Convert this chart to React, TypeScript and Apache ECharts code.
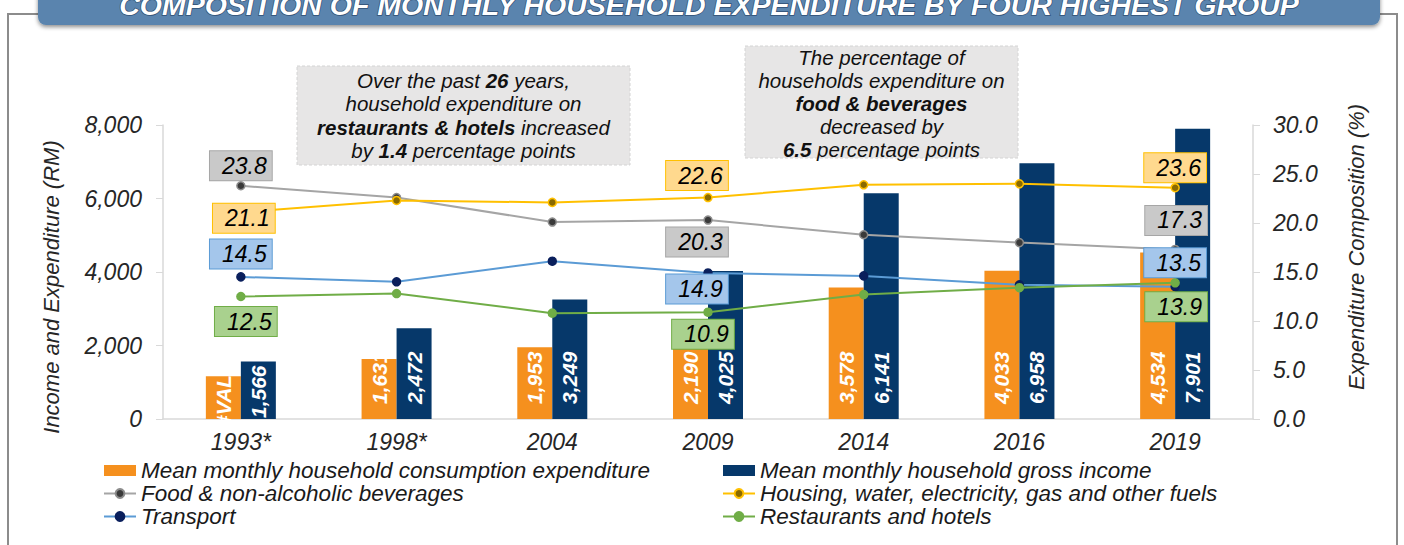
import React, { useEffect, useRef } from "react";
import * as echarts from "echarts";

const categories = ["1993*", "1998*", "2004", "2009", "2014", "2016", "2019"];
const consumption = [1161, 1631, 1953, 2190, 3578, 4033, 4534];
const consumptionLabelText = ["#VALUE!", null, null, null, null, null, null];
const income = [1566, 2472, 3249, 4025, 6141, 6958, 7901];
const food = [23.8, 22.6, 20.1, 20.3, 18.8, 18.0, 17.3];
const housing = [21.1, 22.3, 22.1, 22.6, 23.9, 24.0, 23.6];
const transport = [14.5, 14.0, 16.1, 14.9, 14.6, 13.7, 13.5];
const restaurants = [12.5, 12.8, 10.8, 10.9, 12.7, 13.4, 13.9];
const leftTicks = { min: 0, max: 8000, interval: 2000 };
const rightTicks = { min: 0, max: 30, interval: 5 };

const FONT = '"Liberation Sans", Arial, sans-serif';

const fmt = (v: number) => String(v).replace(/\B(?=(\d{3})+(?!\d))/g, ",");

// label placement for highlighted points (index -> [dx, dy])
const labelOffsets: Record<string, Record<number, number[]>> = {
  food: { 0: [0, -20], 3: [-11, 22], 6: [1, -29] },
  housing: { 0: [3, 6], 3: [-11, -22], 6: [0, -20] },
  transport: { 0: [0, -23], 3: [-11, 16], 6: [0, -24] },
  restaurants: { 0: [5, 25], 3: [-5, 22], 6: [1, 24] },
};

const boxStyles: Record<string, { bg: string; border: string }> = {
  food: { bg: "#c9c9c9", border: "#a6a6a6" },
  housing: { bg: "#ffd98e", border: "#ffc000" },
  transport: { bg: "#a4c6eb", border: "#5b9bd5" },
  restaurants: { bg: "#a9d18e", border: "#70ad47" },
};

function lineData(key: string, values: number[]) {
  const offs = labelOffsets[key];
  const bs = boxStyles[key];
  return values.map((v, i) => {
    if (!offs[i]) return v;
    return {
      value: v,
      label: {
        show: true,
        position: "inside",
        offset: offs[i],
        formatter: (p: any) => Number(p.value).toFixed(1),
        fontSize: 23,
        fontStyle: "italic",
        fontFamily: FONT,
        color: "#000",
        backgroundColor: bs.bg,
        borderColor: bs.border,
        borderWidth: 1,
        padding: [2, 5, 2, 12],
        lineHeight: 25,
      },
    };
  });
}

export default function App() {
  const ref = useRef<HTMLDivElement>(null);
  useEffect(() => {
    if (!ref.current) return;
    const chart = echarts.init(ref.current, undefined, { renderer: "svg" });

    const barLabel = {
      show: true,
      position: "insideBottom",
      rotate: 90,
      align: "left",
      verticalAlign: "middle",
      distance: 15,
      color: "#fff",
      fontSize: 21,
      fontWeight: "bold",
      fontStyle: "italic",
      fontFamily: FONT,
      formatter: (p: any) => fmt(p.value),
    };

    const lineBase = (name: string, key: string, values: number[], lineColor: string, symColor: string, symBorder: string) => ({
      name,
      type: "line",
      yAxisIndex: 1,
      data: lineData(key, values),
      symbol: "circle",
      symbolSize: 8,
      lineStyle: { color: lineColor, width: 2 },
      itemStyle: { color: symColor, borderColor: symBorder, borderWidth: 1.5 },
      z: 5,
    });

    const legendText = { fontSize: 22.5, fontStyle: "italic", fontFamily: FONT, color: "#1a1a1a", lineHeight: 23 };
    const axisLabelBase = { fontSize: 23, fontStyle: "italic", color: "#262626", fontFamily: FONT };

    chart.setOption({
      animation: false,
      textStyle: { fontFamily: FONT },
      grid: { left: 163, right: 151, top: 125, bottom: 126 },
      legend: [
        {
          orient: "vertical",
          left: 103,
          top: 459,
          padding: 0,
          itemGap: 0,
          itemWidth: 32,
          itemHeight: 11,
          textStyle: legendText,
          data: [
            { name: "Mean monthly household consumption expenditure", icon: "rect" },
            "Food & non-alcoholic beverages",
            "Transport",
          ],
        },
        {
          orient: "vertical",
          left: 722,
          top: 459,
          padding: 0,
          itemGap: 0,
          itemWidth: 32,
          itemHeight: 11,
          textStyle: legendText,
          data: [
            { name: "Mean monthly household gross income", icon: "rect" },
            "Housing, water, electricity, gas and other fuels",
            "Restaurants and hotels",
          ],
        },
      ],
      xAxis: {
        type: "category",
        data: categories,
        axisTick: { show: false },
        axisLine: { lineStyle: { color: "#d9d9d9", width: 1.5 } },
        axisLabel: { ...axisLabelBase, margin: 11 },
      },
      yAxis: [
        {
          type: "value",
          min: leftTicks.min,
          max: leftTicks.max,
          interval: leftTicks.interval,
          splitLine: { show: false },
          axisLine: { show: true, lineStyle: { color: "#d9d9d9", width: 1.5 } },
          axisTick: { show: true, length: 7, lineStyle: { color: "#d9d9d9" } },
          axisLabel: { ...axisLabelBase, margin: 21, formatter: (v: number) => fmt(v) },
        },
        {
          type: "value",
          position: "right",
          min: rightTicks.min,
          max: rightTicks.max,
          interval: rightTicks.interval,
          splitLine: { show: false },
          axisLine: { show: true, lineStyle: { color: "#d9d9d9", width: 1.5 } },
          axisTick: { show: true, length: 7, lineStyle: { color: "#d9d9d9" } },
          axisLabel: { ...axisLabelBase, margin: 20, formatter: (v: number) => v.toFixed(1) },
        },
      ],
      series: [
        {
          name: "Mean monthly household consumption expenditure",
          type: "bar",
          barWidth: 35,
          barGap: "0%",
          itemStyle: { color: "#f5901e" },
          label: barLabel,
          data: consumption.map((v, i) =>
            consumptionLabelText[i]
              ? { value: v, label: { formatter: consumptionLabelText[i], distance: -8 } }
              : v
          ),
          z: 2,
        },
        {
          name: "Mean monthly household gross income",
          type: "bar",
          barWidth: 35,
          barGap: "0%",
          itemStyle: { color: "#06386a" },
          label: barLabel,
          data: income.map((v, i) => (i === 0 ? { value: v, label: { distance: 1 } } : v)),
          z: 2,
        },
        lineBase("Food & non-alcoholic beverages", "food", food, "#a5a5a5", "#3a3a3a", "#8c8c8c"),
        lineBase("Housing, water, electricity, gas and other fuels", "housing", housing, "#ffc000", "#8a6a00", "#ffc000"),
        lineBase("Transport", "transport", transport, "#5b9bd5", "#0a1f5c", "#0a1f5c"),
        lineBase("Restaurants and hotels", "restaurants", restaurants, "#70ad47", "#70ad47", "#70ad47"),
      ],
      graphic: [
        {
          type: "rect",
          silent: true,
          shape: { x: 8, y: 14, width: 1389, height: 560 },
          style: { fill: "none", stroke: "#8c8c8c", lineWidth: 2 },
          z: 0,
        },
        {
          type: "rect",
          silent: true,
          shape: { x: 38, y: -20, width: 1342, height: 45, r: [0, 0, 8, 8] },
          style: { fill: "#5a84ae", shadowBlur: 4, shadowOffsetY: 2, shadowColor: "rgba(0,0,0,0.45)" },
          z: 10,
        },
        {
          type: "text",
          silent: true,
          x: 709,
          y: 5,
          style: {
            text: "COMPOSITION OF MONTHLY HOUSEHOLD EXPENDITURE BY FOUR HIGHEST GROUP",
            fontSize: 28.5,
            fontWeight: "bold",
            fontStyle: "italic",
            fontFamily: FONT,
            fill: "#ffffff",
            stroke: "#2f4f73",
            lineWidth: 1.5,
            align: "center",
            verticalAlign: "middle",
            textAlign: "center",
            textVerticalAlign: "middle",
          },
          z: 11,
        },
        {
          type: "text",
          silent: true,
          x: 51,
          y: 287,
          rotation: Math.PI / 2,
          style: {
            text: "Income and Expenditure (RM)",
            fontSize: 22,
            fontStyle: "italic",
            fontFamily: FONT,
            fill: "#262626",
            align: "center",
            verticalAlign: "middle",
            textAlign: "center",
            textVerticalAlign: "middle",
          },
        },
        {
          type: "text",
          silent: true,
          x: 1356,
          y: 247,
          rotation: Math.PI / 2,
          style: {
            text: "Expenditure Composition (%)",
            fontSize: 22,
            fontStyle: "italic",
            fontFamily: FONT,
            fill: "#262626",
            align: "center",
            verticalAlign: "middle",
            textAlign: "center",
            textVerticalAlign: "middle",
          },
        },
        {
          type: "group",
          children: [
            {
              type: "rect",
              silent: true,
              shape: { x: 297, y: 66, width: 333, height: 99 },
              style: { fill: "#e7e6e6", stroke: "#d4d4d4", lineWidth: 1, lineDash: [3, 2] },
            },
            {
              type: "text",
              silent: true,
              x: 463.5,
              y: 115.5,
              style: {
                text:
                  "{n|Over the past }{b|26}{n| years,}\n{n|household expenditure on}\n{b|restaurants & hotels}{n| increased}\n{n|by }{b|1.4}{n| percentage points}",
                align: "center",
                verticalAlign: "middle",
                textAlign: "center",
                textVerticalAlign: "middle",
                fontSize: 20.5,
                fontStyle: "italic",
                fontFamily: FONT,
                fill: "#111",
                rich: {
                  n: { fontSize: 20.5, fontStyle: "italic", fontFamily: FONT, lineHeight: 23.5, fill: "#111" },
                  b: { fontSize: 20.5, fontStyle: "italic", fontWeight: "bold", fontFamily: FONT, lineHeight: 23.5, fill: "#111" },
                },
              },
            },
          ],
        },
        {
          type: "group",
          children: [
            {
              type: "rect",
              silent: true,
              shape: { x: 745, y: 46, width: 273, height: 112 },
              style: { fill: "#e7e6e6", stroke: "#d4d4d4", lineWidth: 1, lineDash: [3, 2] },
            },
            {
              type: "text",
              silent: true,
              x: 881.5,
              y: 103,
              style: {
                text:
                  "{n|The percentage of}\n{n|households expenditure on}\n{b|food & beverages}\n{n|decreased by}\n{b|6.5}{n| percentage points}",
                align: "center",
                verticalAlign: "middle",
                textAlign: "center",
                textVerticalAlign: "middle",
                fontSize: 20.5,
                fontStyle: "italic",
                fontFamily: FONT,
                fill: "#111",
                rich: {
                  n: { fontSize: 20.5, fontStyle: "italic", fontFamily: FONT, lineHeight: 23, fill: "#111" },
                  b: { fontSize: 20.5, fontStyle: "italic", fontWeight: "bold", fontFamily: FONT, lineHeight: 23, fill: "#111" },
                },
              },
            },
          ],
        },
      ],
    });
    return () => chart.dispose();
  }, []);
  return <div ref={ref} style={{ position: "fixed", left: 0, top: 0, width: 1404, height: 545, background: "#fff" }} />;
}
